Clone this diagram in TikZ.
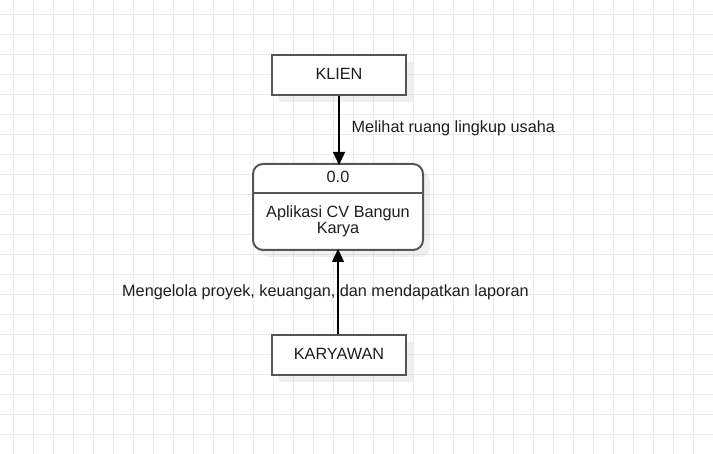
\documentclass[tikz,border=0pt]{standalone}
\usepackage{fontspec}
\setmainfont{Liberation Sans}
\usetikzlibrary{arrows.meta}
\definecolor{gridc}{HTML}{EBEBEB}
\definecolor{boxc}{HTML}{555555}
\definecolor{txtc}{HTML}{1E1E1E}
\tikzset{
  entbox/.style={draw=boxc, line width=2pt, fill=white, minimum width=134pt, minimum height=40pt, inner sep=0pt, text=txtc, font=\fontsize{16.25}{16}\selectfont},
  shadowbox/.style={fill=black, opacity=0.06, draw=none},
  flow/.style={line width=1.4pt, -{Triangle[length=13pt,width=12pt]}, shorten >=-1pt},
  lbl/.style={inner sep=0pt, text=txtc, font=\fontsize{16.25}{16}\selectfont},
}
\begin{document}
\begin{tikzpicture}[x=1pt,y=-1pt]
\useasboundingbox (0,0) rectangle (713,454);
\fill[white] (0,0) rectangle (713,454);
% grid
\foreach \gx in {13,33,...,713} \draw[gridc, line width=1pt] (\gx,0) -- (\gx,454);
\foreach \gy in {15,35,...,454} \draw[gridc, line width=1pt] (0,\gy) -- (713,\gy);
% shadows
\fill[shadowbox] (279,62) rectangle (413,102);
\fill[shadowbox, rounded corners=10pt] (260,171) rectangle (430,257);
\fill[shadowbox] (279,342) rectangle (413,382);
% entities
\node[entbox] (klien) at (339,75) {};
\node[lbl, anchor=base] (klient) at (339,79.3) {KLIEN};
\node[entbox] (kary) at (339,355) {};
\node[lbl, anchor=base] (karyt) at (339,359.3) {KARYAWAN};
% process
\draw[draw=boxc, line width=2pt, fill=white, rounded corners=10pt] (253,164) rectangle (423,250);
\coordinate (ptop) at (339,164);
\coordinate (pbot) at (338,250);
\draw[boxc, line width=1.5pt] (253,193) -- (423,193);
\node[lbl, anchor=base] (pnum) at (338,183) {0.0};
\node[lbl, anchor=base] (pname1) at (338,217.5) {Aplikasi CV Bangun};
\node[lbl, anchor=base] (pname2) at (338,233.3) {Karya};
% flows
\draw[flow] (klien.south -| ptop) -- (ptop);
\draw[flow] (kary.north -| pbot) -- (pbot);
\node[lbl, anchor=base west] (l1) at (351.5,132.7) {Melihat ruang lingkup usaha};
\node[lbl, anchor=base west] (l2) at (122,297) {Mengelola proyek, keuangan, dan mendapatkan laporan};
\end{tikzpicture}
\end{document}
